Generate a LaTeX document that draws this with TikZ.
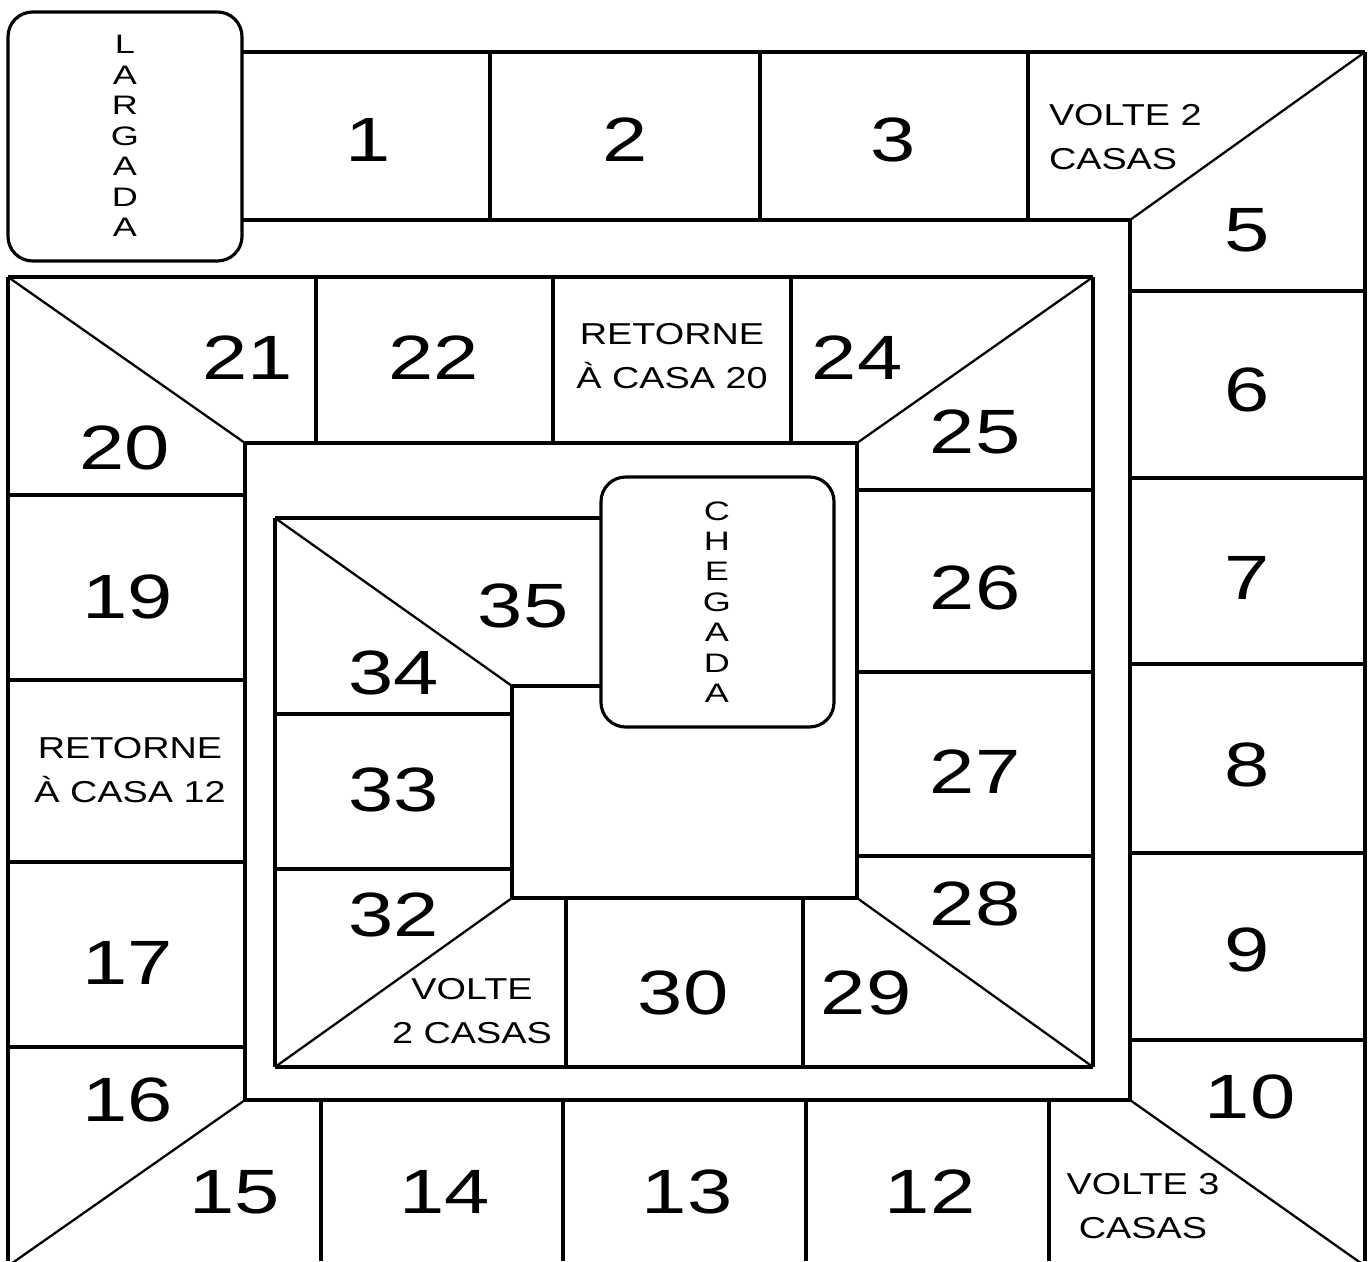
\documentclass[tikz,border=0pt]{standalone}
\usepackage{fontspec}
\setmainfont{Liberation Sans}
\usepackage{tikz}
\newcommand\numfont{\fontsize{17.8}{20}\selectfont}
\newcommand\casafont{\fontsize{8.6}{12.3}\selectfont}
\newcommand\wordfont{\fontsize{7.6}{8.65}\selectfont}

\begin{document}
\begin{tikzpicture}[x=0.01cm,y=-0.01cm,line width=0.9pt,
  casa/.style={font=\numfont,xscale=1.3,inner sep=0pt},
  aviso/.style={font=\casafont,xscale=1.25,inner sep=0pt,align=center},
  vertical/.style={font=\wordfont,xscale=1.35,inner sep=0pt,align=center},
  diag/.style={line width=0.65pt}]
\useasboundingbox (0,0) rectangle (1371,1261);
\clip (0,0) rectangle (1371,1261);
\draw[rounded corners=7pt] (8,12) rectangle (242,261);
\node[vertical] (largada) at (125,136) {L\\A\\R\\G\\A\\D\\A};
\draw (242,52)--(1365,52) (242,220)--(1130,220);
\draw (490,52)--(490,220) (760,52)--(760,220) (1028,52)--(1028,220);
\draw[diag] (1365,52)--(1130,220);
\draw (1365,52)--(1365,1261) (1130,220)--(1130,1100);
\foreach \y in {291,478,664,853,1040} \draw (1130,\y)--(1365,\y);
\draw[diag] (1130,1100)--(1365,1266);
\draw (245,1100)--(1130,1100);
\foreach \x in {321,563,806,1049} \draw (\x,1100)--(\x,1261);
\draw[diag] (245,1100)--(8,1266);
\draw (8,277)--(8,1261) (245,443)--(245,1100) (8,277)--(1093,277);
\foreach \y in {495,680,862,1047} \draw (8,\y)--(245,\y);
\draw[diag] (8,277)--(245,443);
\draw (245,443)--(857,443) (1093,277)--(1093,1067);
\foreach \x in {316,553,791} \draw (\x,277)--(\x,443);
\draw[diag] (1093,277)--(857,443);
\draw (857,443)--(857,898);
\foreach \y in {490,672,856} \draw (857,\y)--(1093,\y);
\draw[diag] (857,898)--(1093,1067);
\draw (275,1067)--(1093,1067) (512,898)--(857,898);
\foreach \x in {566,803} \draw (\x,898)--(\x,1067);
\draw[diag] (512,898)--(275,1067);
\draw (275,518)--(275,1067) (512,686)--(512,898) (275,518)--(601,518) (512,686)--(601,686);
\foreach \y in {714,869} \draw (275,\y)--(512,\y);
\draw[diag] (275,518)--(512,686);
\draw[rounded corners=7pt] (601,477) rectangle (834,727);
\node[vertical] (chegada) at (717,602) {C\\H\\E\\G\\A\\D\\A};
\node[casa] (c1) at (368,140) {1};
\node[casa] (c2) at (625,140) {2};
\node[casa] (c3) at (893,140) {3};
\node[aviso,align=left,anchor=west] (c4) at (1047,137) {VOLTE 2\\CASAS};
\node[casa] (c5) at (1247,230) {5};
\node[casa] (c6) at (1247,390) {6};
\node[casa] (c7) at (1247,578) {7};
\node[casa] (c8) at (1247,765) {8};
\node[casa] (c9) at (1247,950) {9};
\node[casa] (c10) at (1250,1097) {10};
\node[aviso] (c11) at (1143,1206) {VOLTE 3\\CASAS};
\node[casa] (c12) at (930,1192) {12};
\node[casa] (c13) at (687,1192) {13};
\node[casa] (c14) at (445,1192) {14};
\node[casa] (c15) at (235,1192) {15};
\node[casa] (c16) at (128,1100) {16};
\node[casa] (c17) at (128,963) {17};
\node[aviso] (c18) at (130,770) {RETORNE\\À CASA 12};
\node[casa] (c19) at (128,597) {19};
\node[casa] (c20) at (125,448) {20};
\node[casa] (c21) at (248,358) {21};
\node[casa] (c22) at (434,358) {22};
\node[aviso] (c23) at (672,356) {RETORNE\\À CASA 20};
\node[casa] (c24) at (857,358) {24};
\node[casa] (c25) at (975,432) {25};
\node[casa] (c26) at (975,588) {26};
\node[casa] (c27) at (975,772) {27};
\node[casa] (c28) at (975,904) {28};
\node[casa] (c29) at (866,993) {29};
\node[casa] (c30) at (683,993) {30};
\node[aviso] (c31) at (472,1011) {VOLTE\\2 CASAS};
\node[casa] (c32) at (394,915) {32};
\node[casa] (c33) at (394,790) {33};
\node[casa] (c34) at (394,673) {34};
\node[casa] (c35) at (523,606) {35};
\end{tikzpicture}
\end{document}
